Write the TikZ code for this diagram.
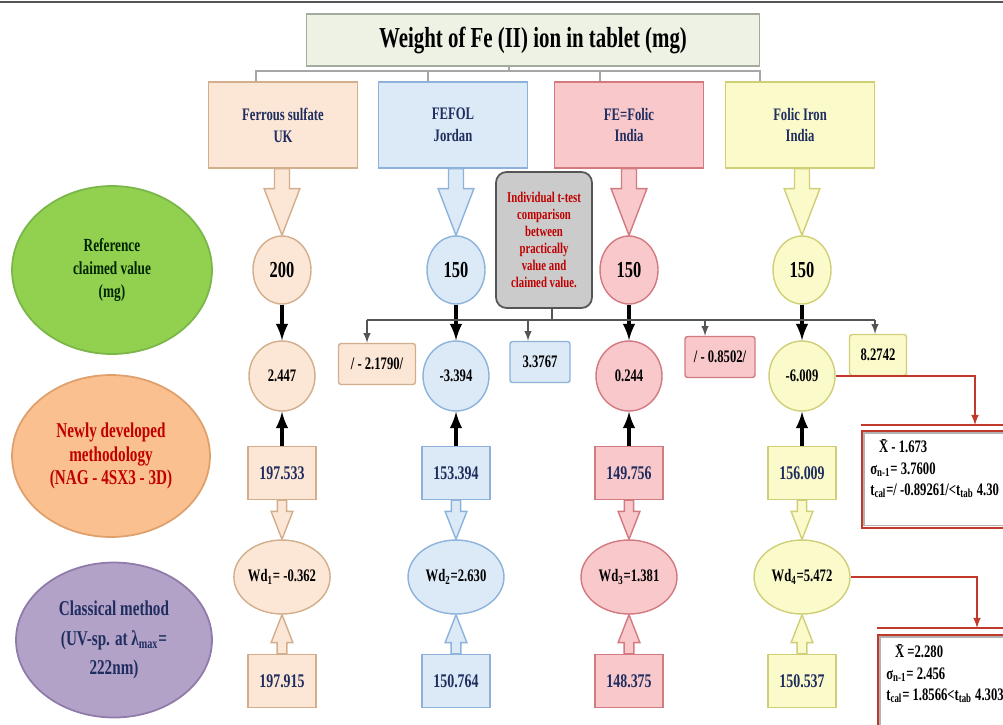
\documentclass[tikz,border=0pt]{standalone}
\usepackage{fontspec}
\setmainfont{Liberation Serif}[FakeStretch=0.72]
\usetikzlibrary{arrows,shapes.geometric,calc}

\definecolor{peachfill}{HTML}{FCE6D6}
\definecolor{peachline}{HTML}{D2AE8C}
\definecolor{bluefill}{HTML}{DCE9F6}
\definecolor{blueline}{HTML}{8DB3DB}
\definecolor{pinkfill}{HTML}{F8C8CB}
\definecolor{pinkline}{HTML}{D27A80}
\definecolor{yelfill}{HTML}{FBFACB}
\definecolor{yelline}{HTML}{CFCF78}
\definecolor{greenfill}{HTML}{92D050}
\definecolor{greenline}{HTML}{7AB648}
\definecolor{orangefill}{HTML}{FAC08F}
\definecolor{orangeline}{HTML}{E0A06C}
\definecolor{purplefill}{HTML}{B3A2C7}
\definecolor{purpleline}{HTML}{8F7BAA}
\definecolor{titlefill}{HTML}{EEF2E4}
\definecolor{titleline}{HTML}{A3AAA0}
\definecolor{navy}{HTML}{1F2D5F}
\definecolor{redtext}{HTML}{C00000}
\definecolor{redline}{HTML}{C0392B}
\definecolor{bargray}{HTML}{555555}
\definecolor{testfill}{HTML}{CBCBCB}

\newcommand{\blockarrow}[6]{%
  \path[#1] let \p1=(#2), \p2=(#3), \n1={\y2-sign(\y2-\y1)*#6} in
    (\x2-#4,\y1) -- (\x2-#4,\n1) -- (\x2-#5,\n1) -- (\x2,\y2)
    -- (\x2+#5,\n1) -- (\x2+#4,\n1) -- (\x2+#4,\y1) -- cycle;}

\begin{document}
\begin{tikzpicture}[x=0.02cm, y=-0.02cm,
  titlebox/.style={draw=titleline, fill=titlefill, line width=1pt, minimum width=9.06cm, minimum height=1.04cm, font=\fontsize{16.5}{19}\selectfont\bfseries},
  colbox/.style={draw=#1line, fill=#1fill, line width=0.8pt, minimum width=2.98cm, minimum height=1.72cm, align=center, text=navy, font=\fontsize{10}{12.5}\selectfont\bfseries},
  circ/.style={ellipse, draw=#1line, fill=#1fill, line width=0.8pt, minimum width=1.16cm, minimum height=1.36cm, inner sep=0pt, font=\fontsize{13}{15}\selectfont\bfseries},
  smallcirc/.style={circ=#1, minimum width=1.32cm, minimum height=1.4cm, font=\fontsize{10}{12}\selectfont\bfseries},
  valbox/.style={draw=#1line, fill=#1fill, line width=0.8pt, minimum width=1.36cm, minimum height=1.06cm, text=navy, font=\fontsize{11}{13}\selectfont\bfseries},
  wdell/.style={circ=#1, minimum width=1.92cm, minimum height=1.48cm, font=\fontsize{10}{12}\selectfont\bfseries},
  sidebox/.style={draw=#1line, fill=#1fill, line width=0.8pt, rounded corners=1.5pt, minimum height=0.82cm, font=\fontsize{10}{12}\selectfont\bfseries},
  bigell/.style={ellipse, draw=#1line, fill=#1fill, line width=1pt, align=center},
  arrowfill/.style={draw=#1line, fill=#1fill, line width=0.8pt},
  bracket/.style={draw=gray!70, line width=1.6pt},
  thickarrow/.style={-latex, line width=2.2pt},
  bar/.style={draw=bargray, line width=1.2pt},
  redlink/.style={draw=redline, line width=1pt, -latex},
  statbox/.style={draw=redline, line width=1pt, fill=white, minimum width=3.6cm, minimum height=1.94cm, inner sep=0pt},
  stattext/.style={align=left, inner sep=0pt, font=\fontsize{10}{12}\selectfont\bfseries}]
\useasboundingbox (0,0) rectangle (1003,724);
\draw[bargray, line width=0.8pt] (0,2) -- (1003,2);

\node[titlebox] (title) at (533,40) {Weight of Fe (II) ion in tablet (mg)};
\node[colbox=peach] (c1) at (283,125) {Ferrous sulfate\\UK};
\node[colbox=blue] (c2) at (453,125) {FEFOL\\Jordan};
\node[colbox=pink] (c3) at (629,125) {FE=Folic\\India};
\node[colbox=yel] (c4) at (800,125) {Folic Iron\\India};

\coordinate (brk) at (509,71);
\draw[bracket] (title.south -| brk) -- (brk);
\foreach \col/\dx in {c1/-0.54,c2/-0.5,c3/-0.58,c4/-0.8}
  \draw[bracket] ([xshift=\dx cm]\col.north) |- (brk);

\node[bigell=green, minimum width=4cm, minimum height=3.36cm, text=black!85!green, font=\fontsize{10.5}{13}\selectfont\bfseries] (ref) at (112,270) {Reference\\claimed value\\(mg)};
\node[bigell=orange, minimum width=3.96cm, minimum height=3.24cm, text=redtext, font=\fontsize{12}{13.6}\selectfont\bfseries] (new) at (111,456) {Newly developed\\methodology\\(NAG - 4SX3 - 3D)};
\node[bigell=purple, minimum width=3.92cm, minimum height=3.1cm, text=navy, font=\fontsize{12}{17}\selectfont\bfseries] (cls) at (114,640) {Classical method\\(UV-sp. at λ\textsubscript{max}=\\222nm)};

\node[circ=peach] (r1c1) at (282,270) {200};
\node[circ=blue] (r1c2) at (456,270) {150};
\node[circ=pink] (r1c3) at (629,270) {150};
\node[circ=yel] (r1c4) at (802,270) {150};

\node[smallcirc=peach] (r2c1) at (282,376) {2.447};
\node[smallcirc=blue] (r2c2) at (456,376) {-3.394};
\node[smallcirc=pink] (r2c3) at (629,376) {0.244};
\node[smallcirc=yel] (r2c4) at (802,376) {-6.009};

\node[valbox=peach] (r3c1) at (282,473) {197.533};
\node[valbox=blue] (r3c2) at (456,473) {153.394};
\node[valbox=pink] (r3c3) at (629,473) {149.756};
\node[valbox=yel] (r3c4) at (802,473) {156.009};

\node[wdell=peach] (r4c1) at (282,577) {Wd\textsubscript{1}= -0.362};
\node[wdell=blue] (r4c2) at (456,577) {Wd\textsubscript{2}=2.630};
\node[wdell=pink] (r4c3) at (629,577) {Wd\textsubscript{3}=1.381};
\node[wdell=yel] (r4c4) at (802,577) {Wd\textsubscript{4}=5.472};

\node[valbox=peach] (r5c1) at (282,681) {197.915};
\node[valbox=blue] (r5c2) at (456,681) {150.764};
\node[valbox=pink] (r5c3) at (629,681) {148.375};
\node[valbox=yel] (r5c4) at (802,681) {150.537};

\foreach \i/\col in {1/peach,2/blue,3/pink,4/yel}{
  \blockarrow{arrowfill=\col}{c\i.south}{r1c\i.north}{4.25pt}{10.2pt}{26.6pt}
  \blockarrow{arrowfill=\col}{r3c\i.south}{r4c\i.north}{2.6pt}{6.2pt}{15.9pt}
  \blockarrow{arrowfill=\col}{r5c\i.north}{r4c\i.south}{2.8pt}{6.2pt}{15.9pt}
  \draw[thickarrow] (r1c\i.south) -- (r2c\i.north);
  \draw[thickarrow] (r3c\i.north) -- (r2c\i.south);
}

\node[draw=bargray, fill=testfill, line width=1pt, rounded corners=6pt, minimum width=1.92cm, minimum height=2.72cm, align=center, text=redtext, font=\fontsize{8.5}{9.6}\selectfont\bfseries] (ttest) at (544,240) {Individual t-test\\comparison\\between\\practically\\value and\\claimed value.};

\node[sidebox=peach, minimum width=1.54cm] (sb1) at (377,364) {/ - 2.1790/};
\node[sidebox=blue, minimum width=1.2cm] (sb2) at (540,362) {3.3767};
\node[sidebox=pink, minimum width=1.4cm] (sb3) at (720,357) {/ - 0.8502/};
\node[sidebox=yel, minimum width=1.14cm] (sb4) at (878,355) {8.2742};

\coordinate (bar) at (552,320);
\draw[bar] (ttest.south -| bar) -- (bar);
\draw[bar] ([xshift=-0.2cm]sb1.north |- bar) -- ([xshift=-0.06cm]sb4.north |- bar);
\foreach \s/\dx in {sb1/-0.2,sb2/-0.24,sb3/-0.3,sb4/-0.06}
  \draw[bar, line width=0.9pt, -latex] ([xshift=\dx cm]\s.north |- bar) -- ([xshift=\dx cm]\s.north);

\node[statbox, anchor=north west] (st1) at (861,430) {};
\draw[gray!60, line width=0.8pt] ([shift={(3,3)}]st1.north west) rectangle ([shift={(-3,-3)}]st1.south east);
\draw[redline, line width=1pt] ([shift={(0,-5)}]st1.north west) -- ([shift={(0,-5)}]st1.north east);
\node[stattext, anchor=north west] (st1txt) at ([shift={(9,9)}]st1.north west) {\hspace{0.5em}\={X} - 1.673\\σ\textsubscript{n-1}= 3.7600\\t\textsubscript{cal}=/ -0.89261/<t\textsubscript{tab} 4.30};
\draw[redlink] (r2c4.east) -| ([shift={(114,-5)}]st1.north west);

\node[statbox, anchor=north west] (st2) at (877,634) {};
\draw[gray!60, line width=0.8pt] ([shift={(3,3)}]st2.north west) rectangle ([shift={(-3,-3)}]st2.south east);
\draw[redline, line width=1pt] ([shift={(0,-6)}]st2.north west) -- ([shift={(0,-6)}]st2.north east);
\node[stattext, anchor=north west] (st2txt) at ([shift={(9,10)}]st2.north west) {\hspace{0.5em}\={X} =2.280\\σ\textsubscript{n-1}= 2.456\\t\textsubscript{cal}= 1.8566<t\textsubscript{tab} 4.303};
\draw[redlink] (r4c4.east) -| ([shift={(100,-6)}]st2.north west);
\end{tikzpicture}
\end{document}
